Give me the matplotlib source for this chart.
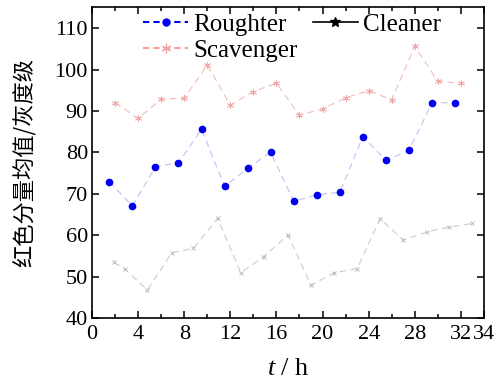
import matplotlib
matplotlib.use('Agg')
import matplotlib.pyplot as plt
from matplotlib.lines import Line2D
from matplotlib.ticker import MultipleLocator, FixedLocator

plt.rcParams['font.family'] = ['Liberation Serif', 'DejaVu Serif']
plt.rcParams['mathtext.fontset'] = 'custom'
plt.rcParams['mathtext.it'] = 'Liberation Serif:italic'
plt.rcParams['mathtext.rm'] = 'Liberation Serif'

# Roughter (blue dots)
rough_t = [1.5, 3.5, 5.5, 7.5, 9.5, 11.5, 13.5, 15.5, 17.5, 19.5, 21.5, 23.5, 25.5, 27.5, 29.5, 31.5]
rough_v = [73.0, 67.1, 76.6, 77.5, 85.6, 71.8, 76.2, 80.1, 68.2, 69.8, 70.4, 83.8, 78.1, 80.5, 92.0, 92.0]

# Scavenger (pink stars)
scav_t = [2, 4, 6, 8, 10, 12, 14, 16, 18, 20, 22, 24, 26, 28, 30, 32]
scav_v = [92.0, 88.2, 92.9, 93.1, 101.1, 91.4, 94.7, 96.7, 89.0, 90.5, 93.2, 94.9, 92.7, 105.6, 97.2, 96.7]

# Cleaner (gray crosses)
clean_t = [1.9, 2.9, 4.8, 6.9, 8.8, 10.9, 12.9, 14.9, 17.0, 19.0, 21.0, 23.0, 25.0, 27.0, 29.1, 31.0, 33.0]
clean_v = [53.5, 51.8, 46.8, 55.8, 56.9, 64.1, 51.0, 54.9, 60.1, 48.0, 51.0, 52.0, 64.0, 58.9, 60.9, 62.0, 62.9]

fig = plt.figure(figsize=(5.03, 3.85), dpi=100)
ax = fig.add_axes([0.183, 0.173, 0.779, 0.808])

ax.plot(rough_t, rough_v, color='#c0c0f6', linestyle=(0, (6, 4)), linewidth=0.8,
        marker='o', markersize=4.5, markerfacecolor='#0000ee', markeredgecolor='#0000ee')
ax.plot(scav_t, scav_v, color='#f6baba', linestyle=(0, (6, 4)), linewidth=0.8,
        marker=(6, 2, 0), markersize=5, markeredgecolor='#f0a8a8', markeredgewidth=0.6)
ax.plot(clean_t, clean_v, color='#cccccc', linestyle=(0, (6, 4)), linewidth=0.8,
        marker='x', markersize=3.5, markeredgecolor='#b0b0b0', markeredgewidth=0.6)

ax.set_xlim(0, 34)
ax.set_ylim(40, 115)
ax.xaxis.set_major_locator(FixedLocator([0, 4, 8, 12, 16, 20, 24, 28, 32, 34]))
ax.xaxis.set_minor_locator(FixedLocator([2, 6, 10, 14, 18, 22, 26, 30]))
ax.yaxis.set_major_locator(MultipleLocator(10))
ax.tick_params(which='both', direction='in', top=True, right=True, labelsize=16, width=1.1)
ax.tick_params(which='major', length=5)
ax.tick_params(which='minor', length=3)
ax.tick_params(axis='x', which='major', pad=5)
ax.tick_params(axis='y', which='major', pad=3)
for s in ax.spines.values():
    s.set_linewidth(1.2)

ax.set_xlabel('$t$ / h', fontsize=19, labelpad=10)
ax.set_ylabel('红色分量均值/灰度级', fontsize=16, family=['Noto Sans CJK SC', 'DejaVu Sans'], labelpad=13)

h_rough = Line2D([], [], color='#0000ee', linestyle=(0, (3, 2)), linewidth=1.5,
                 marker='o', markersize=5)
h_scav = Line2D([], [], color='#f4a0a0', linestyle=(0, (3, 2)), linewidth=1.5,
                marker=(6, 2, 0), markersize=7, markeredgewidth=0.8)
h_clean = Line2D([], [], color='black', linewidth=1.2, marker='*', markersize=7)
ax.legend([h_rough, h_scav, h_clean], ['Roughter', 'Scavenger', 'Cleaner'],
          ncol=2, loc='upper left', bbox_to_anchor=(0.115, 1.0), frameon=False,
          fontsize=18, handlelength=1.8, handletextpad=0.2, columnspacing=0.6,
          labelspacing=0.12, borderaxespad=0.0, borderpad=0.25)

fig.savefig('out.png', dpi=100)
